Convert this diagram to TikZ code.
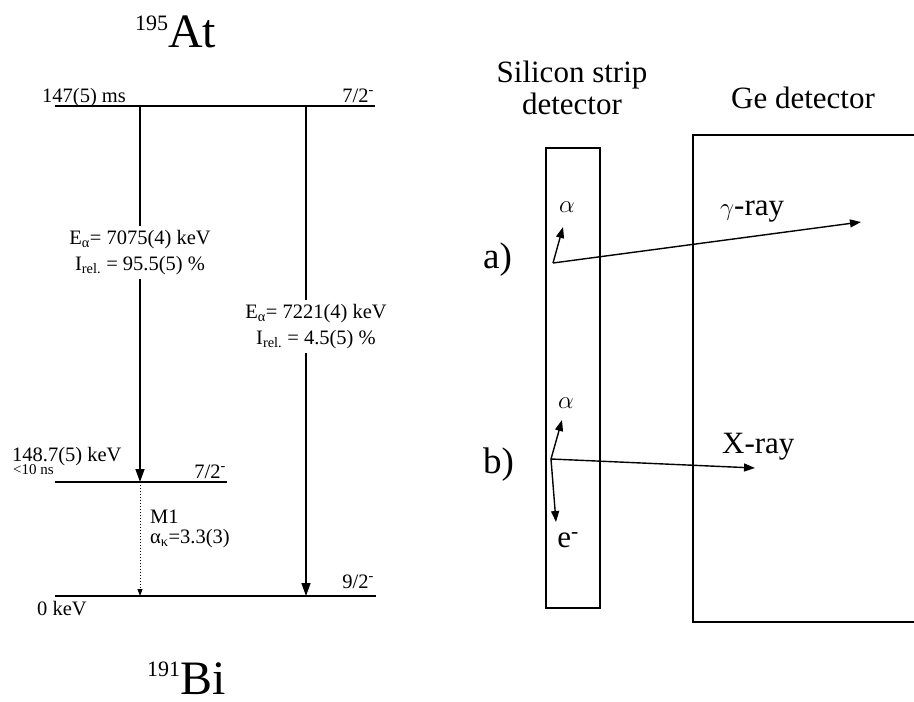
\documentclass[tikz,border=0pt]{standalone}
\usepackage{fontspec}
\setmainfont{Liberation Serif}
\usetikzlibrary{arrows.meta, positioning}
\newcommand{\fs}[1]{\fontsize{#1}{1.28\dimexpr#1pt\relax}\selectfont}

\begin{document}
\begin{tikzpicture}[
  x=1pt, y=-1pt,
  level/.style={line width=1.9pt},
  trans/.style={line width=1.5pt, -{Triangle[length=13pt, width=9pt]}},
  conv/.style={line width=1pt, dotted, -{Triangle[length=7pt, width=5pt]}},
  ray/.style={line width=1.4pt, -{Triangle[length=11pt, width=8pt]}},
  lbl/.style={font=\fs{20.5}, inner sep=0pt},
  txt/.style={font=\fs{31}, inner sep=0pt},
  box/.style={draw, line width=1.8pt, inner sep=0pt}
]
\useasboundingbox (0,0) rectangle (914,702);
\clip (0,0) rectangle (914,702);

% level scheme of 195At -> 191Bi
\coordinate (topL) at (55,106);
\coordinate (topR) at (375,106);
\coordinate (midL) at (55,482);
\coordinate (midR) at (227,482);
\coordinate (gsL) at (55,596);
\coordinate (gsR) at (376,596);
\coordinate (a1s) at (140,106);
\coordinate (a1e) at (140,482);
\coordinate (a2s) at (306,106);
\coordinate (a2e) at (306,596);
\coordinate (gme) at (140,596);

\draw[level] (topL) -- (topR);
\draw[level] (midL) -- (midR);
\draw[level] (gsL) -- (gsR);

\draw[trans] (a1s) -- node[lbl, pos=0.39, fill=white, inner sep=4pt, align=center] (e1)
  {E\textsubscript{α}= 7075(4) keV\\I\textsubscript{rel.} = 95.5(5) \%} (a1e);
\draw[trans] (a2s) -- node[lbl, pos=0.45, xshift=10pt, fill=white, inner sep=4pt, align=center] (e2)
  {E\textsubscript{α}= 7221(4) keV\\I\textsubscript{rel.} = 4.5(5) \%} (a2e);
\draw[conv] (a1e) -- (gme);

\node[lbl, anchor=base west] (tlife) at (42,102) {147(5) ms};
\node[lbl, anchor=base east] (tspin) at (374,102) {7/2\textsuperscript{-}};
\node[lbl, anchor=base west] (menergy) at (12,461) {148.7(5) keV};
\node[lbl, font=\fs{15}, anchor=base west] (mlife) at (13,474) {<10 ns};
\node[lbl, anchor=base east] (mspin) at (226,478) {7/2\textsuperscript{-}};
\node[lbl, anchor=base west] (mult) at (150,523) {M1};
\node[lbl, anchor=base west] (alk) at (150,543) {α\textsubscript{κ}=3.3(3)};
\node[lbl, anchor=base east] (gspin) at (374,588) {9/2\textsuperscript{-}};
\node[lbl, anchor=base west] (genergy) at (37,615) {0 keV};

\node[inner sep=0pt, anchor=base west] (parent) at (135,47)
  {\raisebox{17pt}{\fs{22}195}\fs{48}At};
\node[inner sep=0pt, anchor=base west] (daughter) at (147,694)
  {\raisebox{18pt}{\fs{22}191}\fs{48}Bi};

% detector set-up
\node[box, minimum width=54, minimum height=460] (strip) at (573,378) {};
\node[box, minimum width=237, minimum height=487] (ge) at (811.5,378.5) {};
\node[txt, font=\fontsize{31}{32}\selectfont, align=center, anchor=base] (striptitle) at (572,114) {Silicon strip\\detector};
\node[txt, anchor=base] (getitle) at (803,108) {Ge detector};

\node[font=\fs{37}, inner sep=0pt, anchor=base west] (casea) at (483,268) {a)};
\node[font=\fs{37}, inner sep=0pt, anchor=base west] (caseb) at (483,473) {b)};

\coordinate (oa) at (553,263);
\coordinate (ob) at (551,459);
\coordinate (alphaAtip) at (563,227);
\coordinate (alphaBtip) at (562,420);
\coordinate (elecTip) at (556,522);
\coordinate (gammaTip) at (861,222);
\coordinate (xrayTip) at (755,468);
\node[txt] (alphaa) at (567,207) {$\alpha$};
\node[txt] (alphab) at (566,403) {$\alpha$};
\node[txt] (elec) at (568,540) {e\textsuperscript{-}};
\node[txt, anchor=base west] (gray) at (720,215) {$\gamma$-ray};
\node[txt, anchor=base west] (xray) at (722,453) {X-ray};

\draw[ray] (oa) -- (alphaAtip);
\draw[ray] (oa) -- (gammaTip);
\draw[ray] (ob) -- (alphaBtip);
\draw[ray] (ob) -- (xrayTip);
\draw[ray] (ob) -- (elecTip);
\end{tikzpicture}
\end{document}
